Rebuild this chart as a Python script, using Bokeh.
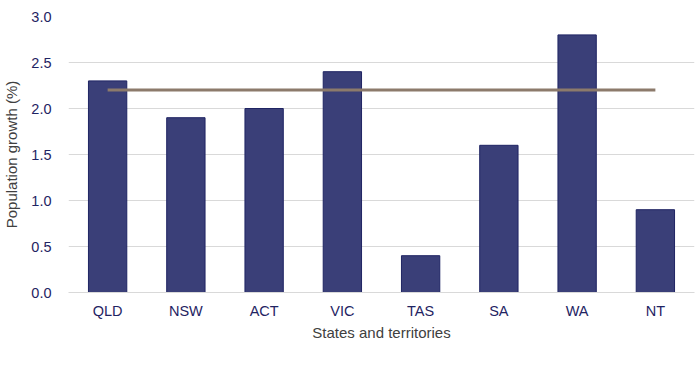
from bokeh.plotting import figure
from bokeh.models import (ColumnDataSource, FactorRange, Range1d, Legend, LegendItem,
                          SingleIntervalTicker, CustomJSTickFormatter)
from bokeh.embed import file_html
from bokeh.resources import INLINE

states = ["QLD", "NSW", "ACT", "VIC", "TAS", "SA", "WA", "NT"]
state_growth = [2.3, 1.9, 2.0, 2.4, 0.4, 1.6, 2.8, 0.9]
australia_growth = [2.2, 2.2, 2.2, 2.2, 2.2, 2.2, 2.2, 2.2]

FONT = "Liberation Sans"
TICK_COLOR = "#1f2463"
LABEL_COLOR = "#404040"

src = ColumnDataSource(dict(x=states, y=state_growth, a=australia_growth))

p = figure(x_range=FactorRange(*states, range_padding=0), y_range=Range1d(0, 3),
           frame_width=626, frame_height=276, output_backend="svg", toolbar_location=None,
           min_border_left=60, min_border_right=7, min_border_top=16, min_border_bottom=0)
p.outline_line_color = None

bars = p.vbar(x="x", top="y", width=0.49, source=src, fill_color="#3a3f78",
              line_color="#1f2463", line_width=1)
line = p.line(x="x", y="a", source=src, line_color="#8c7a6b", line_width=3)

p.yaxis.ticker = SingleIntervalTicker(interval=0.5)
p.yaxis.formatter = CustomJSTickFormatter(code="return tick.toFixed(1);")
for ax in (p.xaxis, p.yaxis):
    ax.major_tick_line_color = None
    ax.minor_tick_line_color = None
    ax.major_label_text_font = FONT
    ax.major_label_text_font_size = "14.5px"
    ax.major_label_text_color = TICK_COLOR
    ax.axis_label_text_font = FONT
    ax.axis_label_text_font_size = "15px"
    ax.axis_label_text_font_style = "normal"
    ax.axis_label_text_color = LABEL_COLOR
p.yaxis.axis_line_color = None
p.xaxis.axis_line_color = "#d9d9d9"
p.xaxis.axis_label = "States and territories"
p.yaxis.axis_label = "Population growth (%)"
p.xaxis.major_label_standoff = 4
p.xaxis.axis_label_standoff = 2
p.yaxis.major_label_standoff = 11
p.yaxis.axis_label_standoff = 8
p.xgrid.grid_line_color = None
p.ygrid.grid_line_color = "#d9d9d9"
p.ygrid.grid_line_width = 1

legend = Legend(items=[LegendItem(label="State growth rate", renderers=[bars]),
                       LegendItem(label="Australia's growth rate", renderers=[line])],
                orientation="horizontal", location=(138, 12),
                label_text_font=FONT, label_text_font_size="13px", label_text_color=LABEL_COLOR,
                glyph_width=30, glyph_height=8, label_standoff=2, spacing=28,
                label_height=12,
                border_line_color=None, background_fill_alpha=0, padding=2, margin=0)
p.add_layout(legend, "below")

open("out.html", "w").write(file_html(p, INLINE))
